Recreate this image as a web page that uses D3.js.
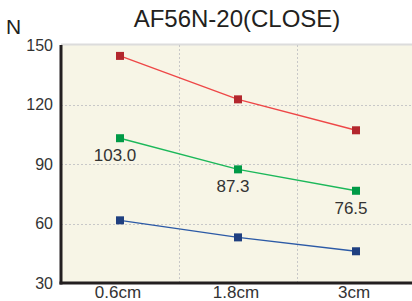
<!DOCTYPE html>
<html lang="en">
<head>
    <meta charset="UTF-8">
    <title>AF56N-20(CLOSE)</title>
    <style>
        body {
            margin: 0;
            background: #fff;
        }
        svg {
            display: block;
            font-family: "Liberation Sans", Arial, sans-serif;
        }
    </style>
</head>
<body>
    <script src="https://d3js.org/d3.v7.min.js"></script>
    <script>
        const chartW = 412
        const chartH = 301

        const categories = ['0.6cm', '1.8cm', '3cm']
        const redValues = [144.5, 122.6, 107.0]
        const greenValues = [103.0, 87.3, 76.5]
        const blueValues = [61.6, 53.0, 46.0]
        const yTicks = [30, 60, 90, 120, 150]
        const labelValues = ['103.0', '87.3', '76.5']

        const series = [
            { values: redValues, line: '#ee4747', marker: '#b3272d' },
            { values: greenValues, line: '#1cb85a', marker: '#009a46' },
            { values: blueValues, line: '#2c5aa6', marker: '#1f3f80' }
        ]

        const plotL = 61
        const plotT = 45
        const plotB = 283
        const plotR = 415

        const x = d3.scaleBand()
            .domain(categories)
            .range([plotL, plotR])

        const y = d3.scaleLinear()
            .domain([30, 150])
            .range([plotB, plotT])

        const cx = d => x(d) + x.bandwidth() / 2

        const svg = d3.select('body')
            .append('svg')
            .attr('width', chartW)
            .attr('height', chartH)

        // 绘图区背景
        svg.append('rect')
            .attr('x', plotL)
            .attr('y', plotT)
            .attr('width', plotR - plotL)
            .attr('height', plotB - plotT)
            .attr('fill', '#f7f5e6')

        // 顶部浅灰边
        svg.append('line')
            .attr('x1', plotL).attr('x2', plotR)
            .attr('y1', plotT - 0.5).attr('y2', plotT - 0.5)
            .attr('stroke', '#dcdcdc')
            .attr('stroke-width', 2)

        // 网格线
        svg.append('g')
            .selectAll('line')
            .data(yTicks.filter(t => t > 30 && t < 150))
            .enter()
            .append('line')
            .attr('x1', plotL).attr('x2', plotR)
            .attr('y1', d => Math.round(y(d)) + 0.5)
            .attr('y2', d => Math.round(y(d)) + 0.5)
            .attr('stroke', '#c8c8c8')
            .attr('stroke-dasharray', '2,2')

        svg.append('g')
            .selectAll('line')
            .data(categories.slice(1))
            .enter()
            .append('line')
            .attr('x1', d => Math.round(x(d)) + 0.5)
            .attr('x2', d => Math.round(x(d)) + 0.5)
            .attr('y1', plotT).attr('y2', plotB)
            .attr('stroke', '#c8c8c8')
            .attr('stroke-dasharray', '2,2')

        // 坐标轴
        const yAxis = d3.axisLeft(y)
            .tickValues(yTicks)
            .tickSize(0)
            .tickPadding(8)

        const xAxis = d3.axisBottom(x)
            .tickSize(0)
            .tickPadding(3)

        const gy = svg.append('g')
            .attr('transform', `translate(${plotL}, 0)`)
            .call(yAxis)
        gy.select('.domain').remove()
        gy.selectAll('text')
            .attr('font-size', 16)
            .attr('fill', '#333')
            .attr('font-family', 'Liberation Sans, Arial, sans-serif')

        const gx = svg.append('g')
            .attr('transform', `translate(0, ${plotB})`)
            .call(xAxis)
        gx.select('.domain').remove()
        gx.selectAll('text')
            .attr('font-size', 17)
            .attr('fill', '#333')
            .attr('dx', -2)
            .attr('font-family', 'Liberation Sans, Arial, sans-serif')

        svg.append('line')
            .attr('x1', plotL).attr('x2', plotL)
            .attr('y1', plotT).attr('y2', plotB + 1.5)
            .attr('stroke', '#231f20')
            .attr('stroke-width', 3)

        svg.append('line')
            .attr('x1', plotL - 1.5).attr('x2', plotR)
            .attr('y1', plotB).attr('y2', plotB)
            .attr('stroke', '#231f20')
            .attr('stroke-width', 3)

        // 折线和点
        const line = d3.line()
            .x((d, i) => cx(categories[i]))
            .y(d => y(d))

        series.forEach(s => {
            svg.append('path')
                .datum(s.values)
                .attr('d', line)
                .attr('fill', 'none')
                .attr('stroke', s.line)
                .attr('stroke-width', 1.4)

            svg.append('g')
                .selectAll('rect')
                .data(s.values)
                .enter()
                .append('rect')
                .attr('x', (d, i) => cx(categories[i]) - 4)
                .attr('y', d => y(d) - 4)
                .attr('width', 8)
                .attr('height', 8)
                .attr('fill', s.marker)
        })

        // 绿色数据标签
        svg.append('g')
            .selectAll('text')
            .data(greenValues)
            .enter()
            .append('text')
            .attr('x', (d, i) => cx(categories[i]) - 5)
            .attr('y', d => y(d) + 23)
            .attr('text-anchor', 'middle')
            .attr('font-size', 17)
            .attr('fill', '#333')
            .text((d, i) => labelValues[i])

        // 标题与单位
        svg.append('text')
            .attr('x', 237)
            .attr('y', 27)
            .attr('text-anchor', 'middle')
            .attr('font-size', 24)
            .attr('fill', '#231f20')
            .text('AF56N-20(CLOSE)')

        svg.append('text')
            .attr('x', 6)
            .attr('y', 34)
            .attr('font-size', 21)
            .attr('fill', '#231f20')
            .text('N')
    </script>
</body>
</html>
